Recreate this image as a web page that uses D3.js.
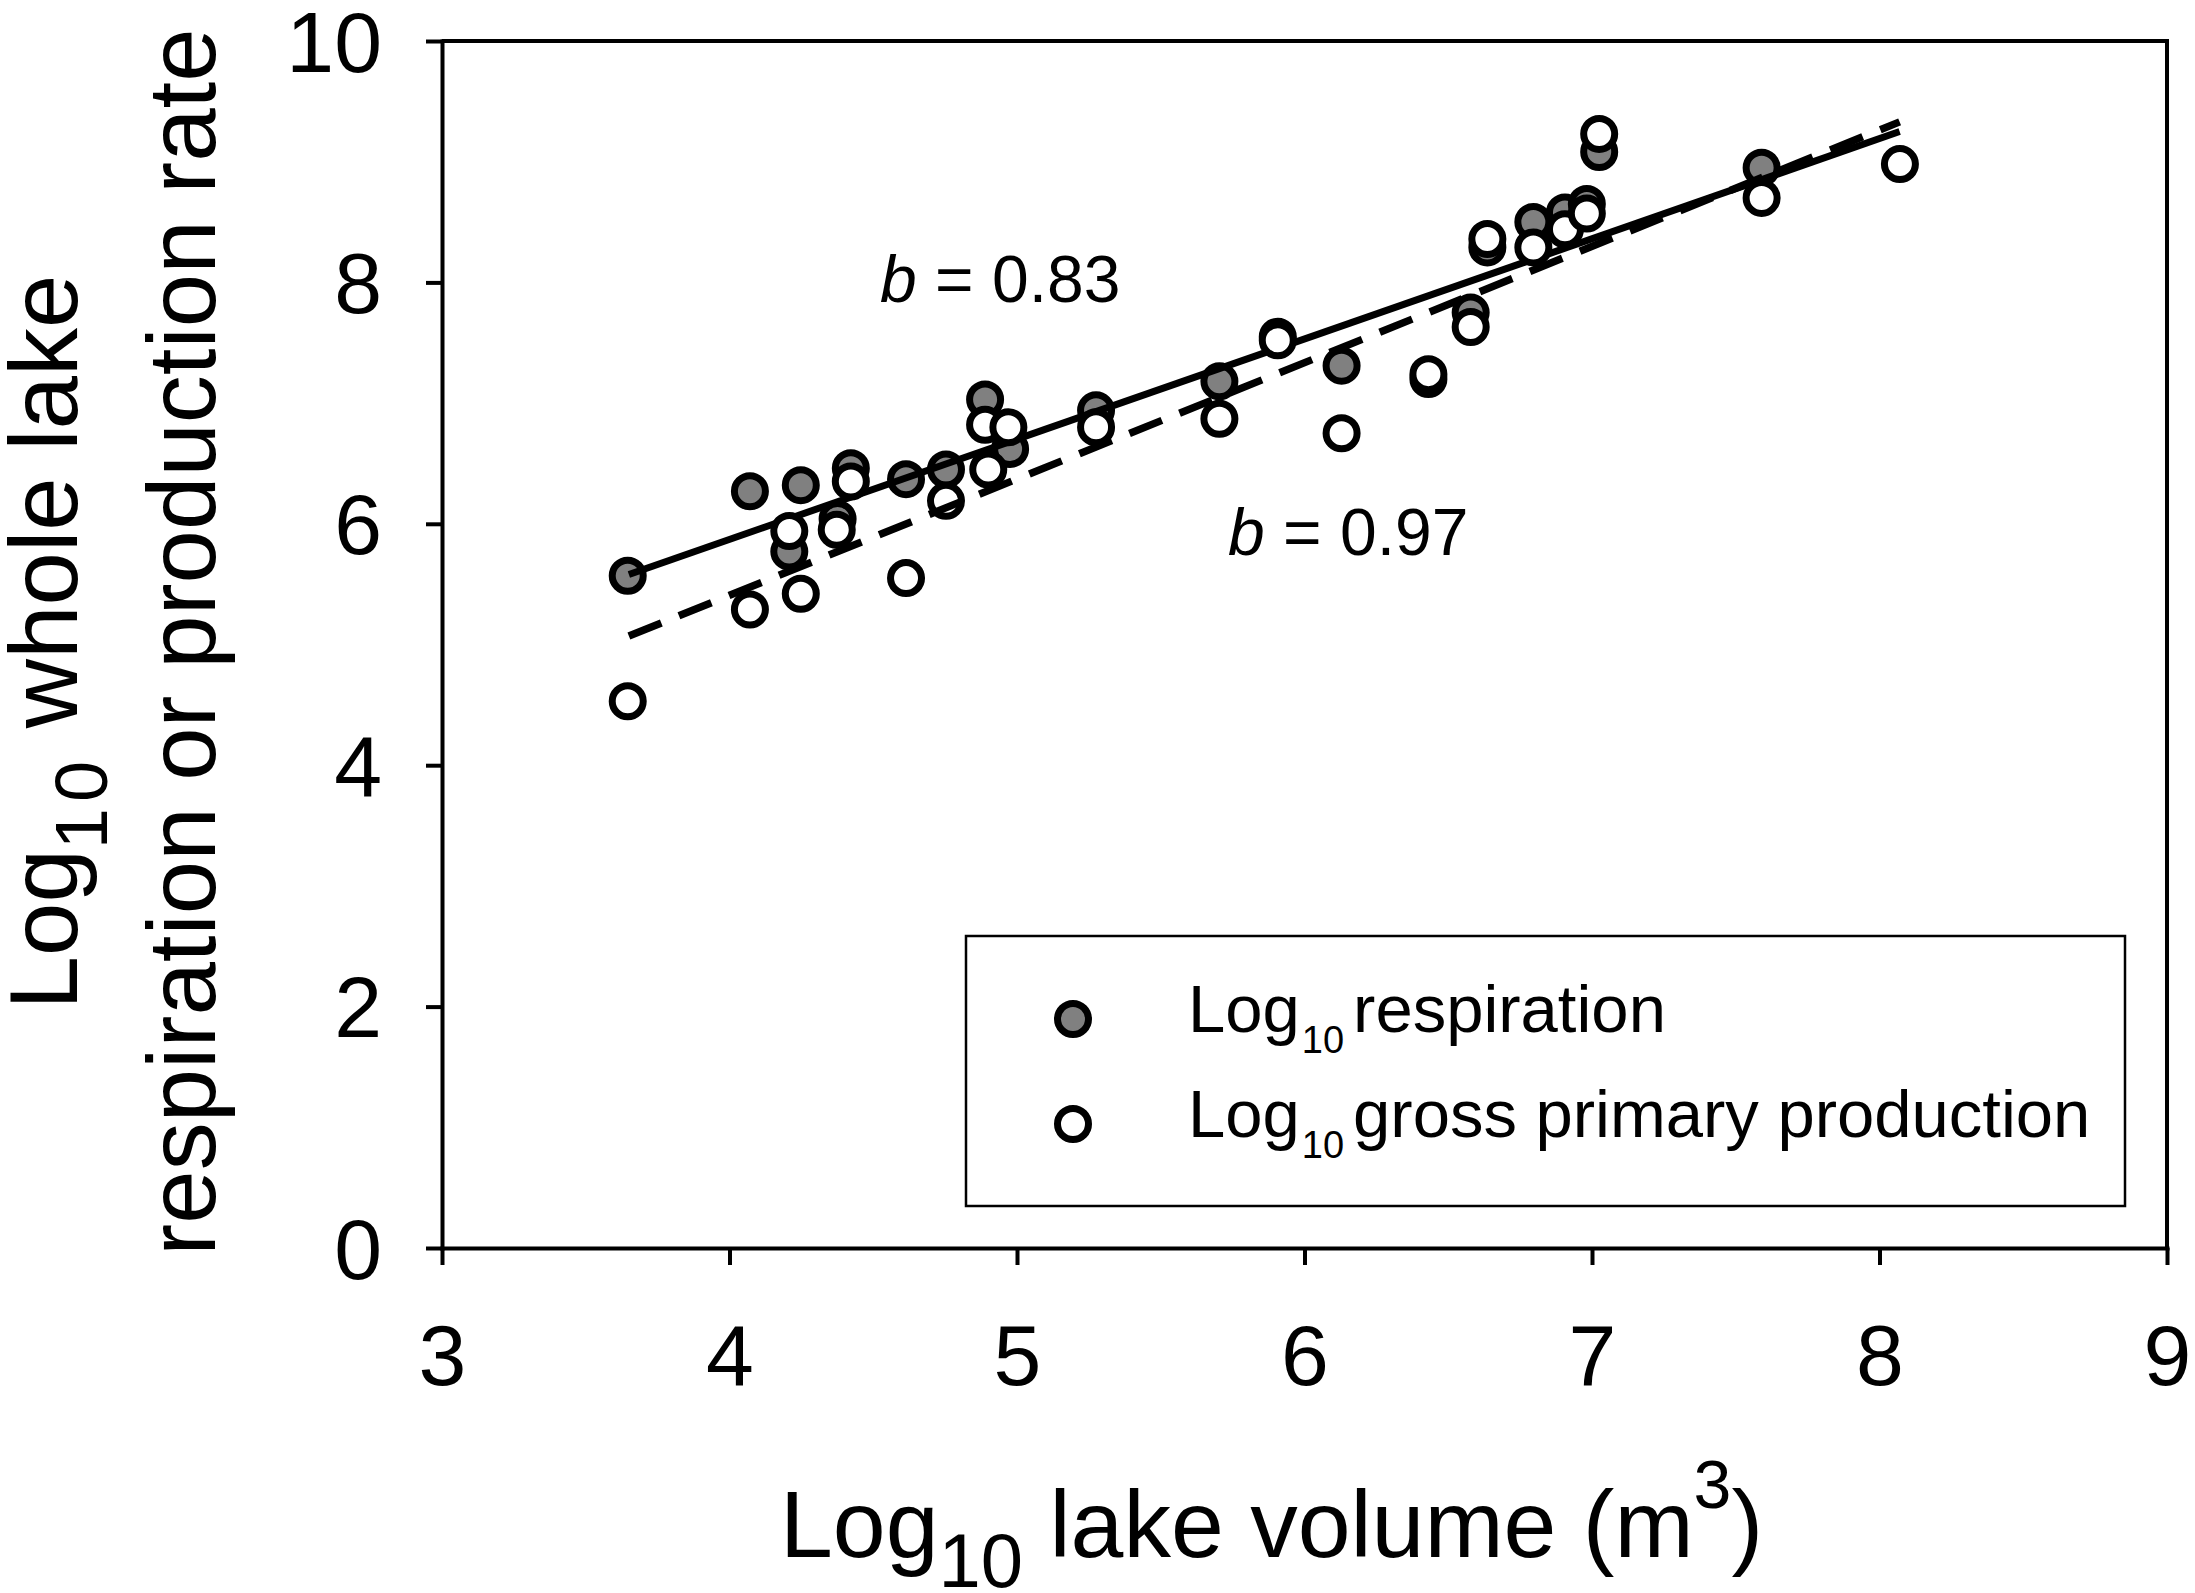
<!DOCTYPE html>
<html>
<head>
  <meta charset="utf-8">
  <script src="https://d3js.org/d3.v7.min.js"></script>
  <style>
    body { margin: 0; background: #fff; }
    text { font-family: "Liberation Sans", Arial, sans-serif; fill: #000; }
    .axis path, .axis line { stroke: #000; stroke-width: 4; }
    .axis text { font-size: 86px; font-family: "Liberation Sans", Arial, sans-serif; }
  </style>
</head>
<body>
  <script>

    // Values
    var respX = [3.646, 4.071, 4.248, 4.422, 4.208, 4.376, 4.614, 4.753, 4.889, 4.976, 5.275,
                 5.704, 5.907, 6.129, 6.431, 6.578, 6.636, 6.796, 6.906, 6.982, 7.025, 7.590];
    var respY = [5.57, 6.27, 6.32, 6.46, 5.77, 6.04, 6.37, 6.45, 7.03, 6.62, 6.94,
                 7.18, 7.55, 7.31, 7.20, 7.75, 8.29, 8.50, 8.58, 8.65, 9.08, 8.95];

    var gppX = [3.646, 4.071, 4.248, 4.208, 4.373, 4.422, 4.614, 4.753, 4.889, 4.970, 4.900, 5.275,
                5.704, 5.907, 6.129, 6.431, 6.578, 6.636, 6.796, 6.906, 6.982, 7.025, 7.590, 8.071];
    var gppY = [4.53, 5.29, 5.42, 5.94, 5.95, 6.35, 5.55, 6.19, 6.82, 6.80, 6.45, 6.80,
                6.87, 7.52, 6.75, 7.24, 7.63, 8.36, 8.29, 8.44, 8.57, 9.23, 8.70, 8.98];

    // regression line end points
    var fitX = [3.65, 8.07];
    var respFit = [5.58, 9.25];
    var gppFit = [5.07, 9.33];

    var xTicks = [3, 4, 5, 6, 7, 8, 9];
    var yTicks = [0, 2, 4, 6, 8, 10];

    var W = 2195, H = 1593;
    var pLeft = 442, pRight = 2167, pTop = 41, pBottom = 1248;

    var x = d3.scaleLinear().domain([3, 9]).range([pLeft, pRight]);
    var y = d3.scaleLinear().domain([0, 10]).range([pBottom, pTop]);

    var svg = d3.select("body").append("svg")
        .attr("width", W)
        .attr("height", H);

    // frame (top and right)
    svg.append("path")
        .attr("d", "M" + pLeft + "," + pTop + "H" + pRight + "V" + pBottom)
        .attr("fill", "none")
        .attr("stroke", "#000")
        .attr("stroke-width", 4);

    // axes
    svg.append("g")
        .attr("class", "axis")
        .attr("transform", "translate(" + pLeft + ",0)")
        .call(d3.axisLeft(y).tickValues(yTicks).tickFormat(d3.format("d"))
          .tickSizeInner(16).tickSizeOuter(0).tickPadding(44))
      .selectAll("text")
        .attr("dy", "0.35em");

    svg.append("g")
        .attr("class", "axis")
        .attr("transform", "translate(0," + pBottom + ")")
        .call(d3.axisBottom(x).tickValues(xTicks).tickFormat(d3.format("d"))
          .tickSizeInner(17).tickSizeOuter(0).tickPadding(59));

    svg.selectAll(".axis .domain").attr("stroke-linecap", "square");

    var rPt = 15.5, sw = 7;

    // respiration points
    svg.append("g").selectAll("circle")
        .data(d3.range(respX.length))
      .enter().append("circle")
        .attr("cx", function(i) { return x(respX[i]); })
        .attr("cy", function(i) { return y(respY[i]); })
        .attr("r", rPt)
        .attr("fill", "#808080")
        .attr("stroke", "#000")
        .attr("stroke-width", sw);

    var line = d3.line()
        .x(function(d) { return x(d[0]); })
        .y(function(d) { return y(d[1]); });

    // respiration fit (solid)
    svg.append("path")
        .datum(d3.zip(fitX, respFit))
        .attr("d", line)
        .attr("fill", "none")
        .attr("stroke", "#000")
        .attr("stroke-width", 7);

    // GPP points
    svg.append("g").selectAll("circle")
        .data(d3.range(gppX.length))
      .enter().append("circle")
        .attr("cx", function(i) { return x(gppX[i]); })
        .attr("cy", function(i) { return y(gppY[i]); })
        .attr("r", rPt)
        .attr("fill", "#fff")
        .attr("stroke", "#000")
        .attr("stroke-width", sw);

    // GPP fit (dashed)
    svg.append("path")
        .datum(d3.zip(fitX, gppFit))
        .attr("d", line)
        .attr("fill", "none")
        .attr("stroke", "#000")
        .attr("stroke-width", 7.5)
        .attr("stroke-dasharray", "35,19");

    // slope labels
    function slopeLabel(px, py, val) {
      var t = svg.append("text")
          .attr("x", px)
          .attr("y", py)
          .attr("font-size", 66);
      t.append("tspan").attr("font-style", "italic").text("b");
      t.append("tspan").text(" = " + val);
    }
    slopeLabel(880, 302, "0.83");
    slopeLabel(1228, 555, "0.97");

    // legend
    svg.append("rect")
        .attr("x", 966)
        .attr("y", 936)
        .attr("width", 2125 - 966)
        .attr("height", 1206 - 936)
        .attr("fill", "none")
        .attr("stroke", "#000")
        .attr("stroke-width", 2.5);

    var legend = [
      {fill: "#808080", label: "respiration", y: 1032},
      {fill: "#fff", label: "gross primary production", y: 1137}
    ];

    legend.forEach(function(d) {
      svg.append("circle")
          .attr("cx", 1073)
          .attr("cy", d.y - 13)
          .attr("r", rPt)
          .attr("fill", d.fill)
          .attr("stroke", "#000")
          .attr("stroke-width", sw);
      var t = svg.append("text")
          .attr("x", 1188)
          .attr("y", d.y)
          .attr("font-size", 67);
      t.append("tspan").text("Log");
      t.append("tspan").attr("font-size", 38).attr("dy", 21).attr("dx", 2).text("10");
      t.append("tspan").attr("dy", -21).attr("dx", 9).text(d.label);
    });

    // x axis title
    var xt = svg.append("text")
        .attr("x", 780)
        .attr("y", 1557)
        .attr("font-size", 95);
    xt.append("tspan").text("Log");
    xt.append("tspan").attr("font-size", 76).attr("dy", 30).text("10");
    xt.append("tspan").attr("dy", -30).text(" lake volume (m");
    xt.append("tspan").attr("font-size", 68).attr("dy", -49).text("3");
    xt.append("tspan").attr("dy", 49).text(")");

    // y axis title, two lines
    var yt1 = svg.append("text")
        .attr("transform", "translate(77,642) rotate(-90)")
        .attr("text-anchor", "middle")
        .attr("font-size", 96);
    yt1.append("tspan").text("Log");
    yt1.append("tspan").attr("font-size", 74).attr("dy", 30).attr("letter-spacing", 6).text("10");
    yt1.append("tspan").attr("dy", -30).text(" whole lake");

    svg.append("text")
        .attr("transform", "translate(215,642) rotate(-90)")
        .attr("text-anchor", "middle")
        .attr("font-size", 96)
        .text("respiration or production rate");

  </script>
</body>
</html>
